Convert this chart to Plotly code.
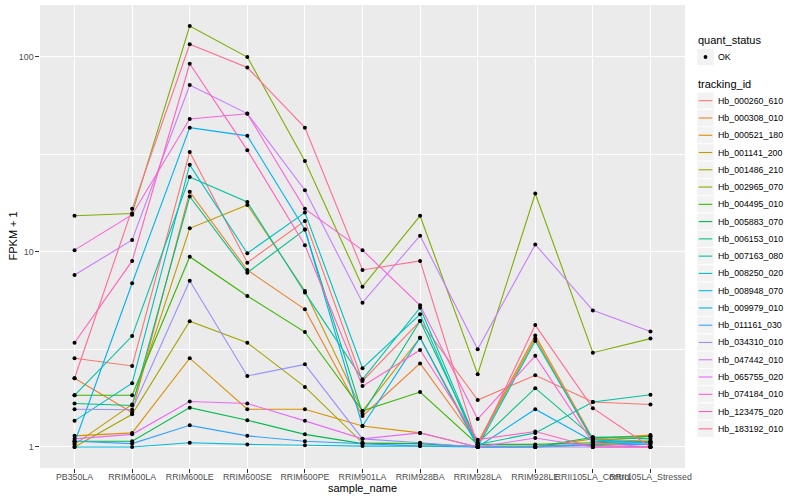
import plotly.graph_objects as go

sample_names = ["PB350LA", "RRIM600LA", "RRIM600LE", "RRIM600SE", "RRIM600PE",
                "RRIM901LA", "RRIM928BA", "RRIM928LA", "RRIM928LE",
                "RRII105LA_Control", "RRII105LA_Stressed"]

tracking_ids = ["Hb_000260_610", "Hb_000308_010", "Hb_000521_180", "Hb_001141_200",
                "Hb_001486_210", "Hb_002965_070", "Hb_004495_010", "Hb_005883_070",
                "Hb_006153_010", "Hb_007163_080", "Hb_008250_020", "Hb_008948_070",
                "Hb_009979_010", "Hb_011161_030", "Hb_034310_010", "Hb_047442_010",
                "Hb_065755_020", "Hb_074184_010", "Hb_123475_020", "Hb_183192_010"]

# FPKM + 1 per sample (order of sample_names)
hb_000260_610 = [2.85, 2.6, 32.5, 8.8, 14.4, 2.18, 4.42, 1.74, 2.33, 1.70, 1.65]
hb_000308_010 = [2.25, 1.5, 20.3, 8.07, 5.07, 1.44, 2.68, 1.05, 3.73, 1.1, 1.07]
hb_000521_180 = [1.14, 1.18, 2.85, 1.56, 1.56, 1.28, 1.18, 1.0, 1.0, 1.1, 1.15]
hb_001141_200 = [1.03, 1.65, 13.2, 17.4, 6.3, 1.53, 3.63, 1.03, 3.6, 1.07, 1.13]
hb_001486_210 = [1.0, 1.47, 4.41, 3.42, 2.03, 1.05, 1.04, 1.0, 1.0, 1.02, 1.0]
hb_002965_070 = [15.3, 15.7, 143.6, 99.6, 29.2, 6.63, 15.3, 2.36, 19.9, 3.04, 3.59]
hb_004495_010 = [1.84, 1.84, 9.44, 5.94, 3.88, 1.53, 1.91, 1.03, 1.03, 1.05, 1.07]
hb_005883_070 = [1.07, 1.07, 1.59, 1.37, 1.16, 1.04, 1.04, 1.0, 1.0, 1.12, 1.13]
hb_006153_010 = [1.67, 1.63, 19.2, 7.82, 13.0, 1.48, 4.42, 1.05, 2.0, 1.12, 1.1]
hb_007163_080 = [1.84, 3.7, 24.2, 18.0, 6.18, 2.22, 5.17, 1.03, 1.18, 1.70, 1.85]
hb_008250_020 = [1.36, 2.12, 27.9, 9.83, 15.9, 2.53, 4.78, 1.0, 3.49, 1.09, 1.05]
hb_008948_070 = [1.0, 1.0, 1.05, 1.03, 1.02, 1.01, 1.01, 1.0, 1.0, 1.03, 1.05]
hb_009979_010 = [1.05, 6.9, 43.3, 39.3, 13.0, 1.28, 3.63, 1.0, 1.56, 1.07, 1.05]
hb_011161_030 = [1.07, 1.04, 1.29, 1.14, 1.07, 1.04, 1.01, 1.01, 1.01, 1.03, 1.03]
hb_034310_010 = [1.56, 1.55, 7.1, 2.31, 2.65, 1.1, 1.05, 1.0, 1.0, 1.0, 1.0]
hb_047442_010 = [7.6, 11.5, 71.6, 51.1, 20.7, 5.49, 12.1, 3.17, 10.9, 5.01, 3.90]
hb_065755_020 = [1.1, 1.16, 1.71, 1.67, 1.36, 1.1, 1.18, 1.0, 1.11, 1.0, 1.0]
hb_074184_010 = [10.2, 15.5, 48.0, 51.0, 16.6, 10.2, 5.32, 1.39, 2.93, 1.05, 1.0]
hb_123475_020 = [3.42, 8.98, 92.0, 33.2, 10.8, 2.05, 3.14, 1.09, 1.2, 1.0, 1.0]
hb_183192_010 = [2.25, 16.6, 115.7, 88.0, 43.3, 8.07, 8.98, 1.01, 4.21, 1.58, 1.0]

series_values = [hb_000260_610, hb_000308_010, hb_000521_180, hb_001141_200,
                 hb_001486_210, hb_002965_070, hb_004495_010, hb_005883_070,
                 hb_006153_010, hb_007163_080, hb_008250_020, hb_008948_070,
                 hb_009979_010, hb_011161_030, hb_034310_010, hb_047442_010,
                 hb_065755_020, hb_074184_010, hb_123475_020, hb_183192_010]

colors = ["#F8766D", "#EA8331", "#D89000", "#C09B00", "#A3A500", "#7CAE00", "#39B600",
          "#00BB4E", "#00BF7D", "#00C1A3", "#00BFC4", "#00BAE0", "#00B0F6", "#35A2FF",
          "#9590FF", "#C77CFF", "#E76BF3", "#FA62DB", "#FF62BC", "#FF6C91"]

y_ticks = [1, 10, 100]
y_tick_labels = ["1", "10", "100"]

FONT = "Liberation Sans"
W, H = 800, 500
PL, PR, PT, PB = 40, 685, 5, 468  # panel pixel box

fig = go.Figure()
for name, vals, col in zip(tracking_ids, series_values, colors):
    fig.add_trace(go.Scatter(x=sample_names, y=vals, mode="lines", name=name,
                             line=dict(color=col, width=1.1), showlegend=False))
for name, vals in zip(tracking_ids, series_values):
    fig.add_trace(go.Scatter(x=sample_names, y=vals, mode="markers", name=name,
                             marker=dict(color="black", size=4), showlegend=False))


def px_x(px):
    return (px - PL) / (PR - PL)


def px_y(py):
    return (PB - py) / (PB - PT)


shapes = []
annotations = []

# axis titles
annotations.append(dict(text="sample_name", x=0.5, y=px_y(488), xref="paper", yref="paper",
                        showarrow=False, font=dict(family=FONT, size=11, color="black"),
                        xanchor="center", yanchor="middle"))
annotations.append(dict(text="FPKM + 1", x=px_x(12), y=0.5, xref="paper", yref="paper",
                        showarrow=False, textangle=-90,
                        font=dict(family=FONT, size=11, color="black"),
                        xanchor="center", yanchor="middle"))

# legend: quant_status
annotations.append(dict(text="quant_status", x=px_x(696), y=px_y(40.5), xref="paper",
                        yref="paper", showarrow=False, xanchor="left", yanchor="middle",
                        font=dict(family=FONT, size=11, color="black")))
shapes.append(dict(type="rect", xref="paper", yref="paper", x0=px_x(697), x1=px_x(714),
                   y0=px_y(48.5), y1=px_y(65.5), fillcolor="#F2F2F2",
                   line=dict(color="white", width=0.8), layer="above"))
shapes.append(dict(type="circle", xref="paper", yref="paper", x0=px_x(703.6), x1=px_x(707.4),
                   y0=px_y(55.1), y1=px_y(58.9), fillcolor="black",
                   line=dict(color="black", width=0), layer="above"))
annotations.append(dict(text="OK", x=px_x(716.5), y=px_y(57), xref="paper", yref="paper",
                        showarrow=False, xanchor="left", yanchor="middle",
                        font=dict(family=FONT, size=8.8, color="black")))

# legend: tracking_id
annotations.append(dict(text="tracking_id", x=px_x(696), y=px_y(84), xref="paper",
                        yref="paper", showarrow=False, xanchor="left", yanchor="middle",
                        font=dict(family=FONT, size=11, color="black")))
for i, (name, col) in enumerate(zip(tracking_ids, colors)):
    yc = 100.7 + 17.27 * i
    shapes.append(dict(type="rect", xref="paper", yref="paper", x0=px_x(697), x1=px_x(714),
                       y0=px_y(yc - 8.6), y1=px_y(yc + 8.6), fillcolor="#F2F2F2",
                       line=dict(color="white", width=0.8), layer="above"))
    shapes.append(dict(type="line", xref="paper", yref="paper", x0=px_x(698.7), x1=px_x(712.3),
                       y0=px_y(yc), y1=px_y(yc), line=dict(color=col, width=1.1),
                       layer="above"))
    annotations.append(dict(text=name, x=px_x(716.5), y=px_y(yc), xref="paper", yref="paper",
                            showarrow=False, xanchor="left", yanchor="middle",
                            font=dict(family=FONT, size=8.8, color="black")))

fig.update_layout(
    width=W, height=H,
    margin=dict(l=PL, r=W - PR, t=PT, b=H - PB, pad=0),
    paper_bgcolor="white", plot_bgcolor="#EBEBEB",
    showlegend=False,
    shapes=shapes, annotations=annotations,
    font=dict(family=FONT),
)
fig.update_xaxes(
    type="category", categoryorder="array", categoryarray=sample_names,
    range=[-0.6, len(sample_names) - 0.4], automargin=False,
    showgrid=True, gridcolor="white", gridwidth=1.1,
    ticks="outside", ticklen=3.7, tickwidth=1, tickcolor="#333333",
    ticklabelstandoff=-3,
    tickangle=0, tickfont=dict(family=FONT, size=8.8, color="#4D4D4D"),
    showline=False, zeroline=False,
)
fig.update_yaxes(
    type="log", range=[-0.108, 2.265], automargin=False,
    tickvals=y_ticks, ticktext=y_tick_labels,
    showgrid=True, gridcolor="white", gridwidth=1.1,
    minor=dict(tickvals=[10 ** 0.5, 10 ** 1.5], showgrid=True, gridcolor="white",
               gridwidth=0.55, ticks=""),
    ticks="outside", ticklen=3.7, tickwidth=1, tickcolor="#333333",
    tickfont=dict(family=FONT, size=8.8, color="#4D4D4D"),
    showline=False, zeroline=False,
)

fig.write_html("out.html", config={"displayModeBar": False},
               post_script="document.body.style.margin='0px';document.body.style.padding='0px';")
